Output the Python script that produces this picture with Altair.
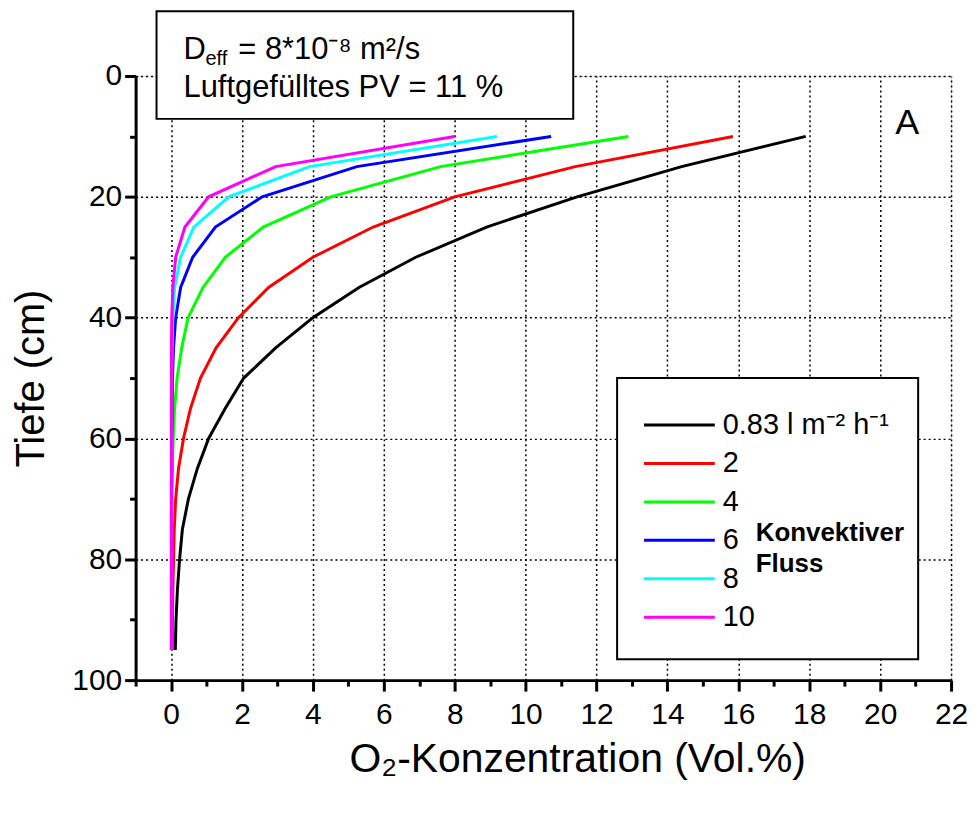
import altair as alt
import pandas as pd

# ---------------- data ----------------
depth = [10, 15, 20, 25, 30, 35, 40, 45, 50, 55, 60, 65, 70, 75, 80, 85, 90, 95]

series_names = ["0.83 l m\u207b\u00b2 h\u207b\u00b9", "2", "4", "6", "8", "10"]
series_colors = ["#000000", "#ff0000", "#00ff00", "#0000ff", "#00ffff", "#ff00ff"]

o2_083 = [17.9, 14.4, 11.45, 8.9, 6.9, 5.3, 4.0, 2.95, 2.05, 1.53, 1.06, 0.74, 0.49, 0.32, 0.24, 0.18, 0.14, 0.12]
o2_2 = [15.85, 11.4, 8.0, 5.7, 4.0, 2.75, 1.9, 1.27, 0.83, 0.55, 0.35, 0.21, 0.13, 0.09, 0.07, 0.05, 0.04, 0.04]
o2_4 = [12.9, 7.6, 4.5, 2.6, 1.53, 0.9, 0.48, 0.3, 0.17, 0.1, 0.06, 0.04, 0.03, 0.02, 0.02, 0.02, 0.02, 0.02]
o2_6 = [10.72, 5.24, 2.57, 1.25, 0.61, 0.27, 0.13, 0.07, 0.04, 0.03, 0.02, 0.02, 0.01, 0.01, 0.01, 0.01, 0.01, 0.01]
o2_8 = [9.19, 3.9, 1.63, 0.64, 0.27, 0.1, 0.05, 0.03, 0.02, 0.01, 0.01, 0.01, 0.01, 0.01, 0.01, 0.01, 0.01, 0.01]
o2_10 = [8.0, 2.95, 1.06, 0.39, 0.13, 0.05, 0.02, 0.01, 0.01, 0.01, 0.01, 0.01, 0.01, 0.01, 0.01, 0.01, 0.01, 0.01]

all_series = [o2_083, o2_2, o2_4, o2_6, o2_8, o2_10]

x_ticks = list(range(-1, 23))
y_ticks = list(range(0, 101, 10))

rows = []
for name, vals in zip(series_names, all_series):
    for d, v in zip(depth, vals):
        rows.append({"series": name, "depth": d, "o2": v})
df = pd.DataFrame(rows)

FONT = "Liberation Sans"

color_scale = alt.Scale(domain=series_names, range=series_colors)

x_axis = alt.Axis(
    values=x_ticks,
    labelExpr="datum.value >= 0 && datum.value % 2 === 0 ? datum.label : ''",
    labelOverlap=False,
    labelFlush=False,
    labelFontSize=30,
    labelPadding=9,
    labelFont=FONT,
    labelColor="black",
    tickSize={"condition": {"test": "datum.value % 2 === 0", "value": 11}, "value": 6},
    tickWidth=3,
    tickColor="black",
    domainWidth=3,
    domainColor="black",
    grid=True,
    gridColor="black",
    gridDash=[2, 3],
    gridWidth=1.5,
    gridOpacity={"condition": {"test": "datum.value % 2 === 0", "value": 1}, "value": 0},
    title="O\u2082-Konzentration (Vol.%)",
    titleFontSize=41,
    titleFont=FONT,
    titleFontWeight="normal",
    titleColor="black",
    titlePadding=10,
    titleX=443,
)

y_axis = alt.Axis(
    values=y_ticks,
    labelExpr="datum.value % 20 === 0 ? datum.label : ''",
    labelOverlap=False,
    labelFlush=False,
    labelFontSize=30,
    labelPadding=3,
    labelFont=FONT,
    labelColor="black",
    tickSize={"condition": {"test": "datum.value % 20 === 0", "value": 11}, "value": 6},
    tickWidth=3,
    tickColor="black",
    domainWidth=3,
    domainColor="black",
    grid=True,
    gridColor="black",
    gridDash=[2, 3],
    gridWidth=1.5,
    gridOpacity={"condition": {"test": "datum.value % 20 === 0", "value": 1}, "value": 0},
    title="Tiefe (cm)",
    titleFontSize=40,
    titleFont=FONT,
    titleFontWeight="normal",
    titleColor="black",
    titlePadding=20,
)

lines = alt.Chart(df).mark_line(strokeWidth=3, clip=True).encode(
    x=alt.X("o2:Q", scale=alt.Scale(domain=[-1, 22], nice=False, zero=False), axis=x_axis),
    y=alt.Y("depth:Q", scale=alt.Scale(domain=[0, 100], reverse=True, nice=False), axis=y_axis),
    color=alt.Color("series:N", scale=color_scale, legend=None),
    order=alt.Order("depth:Q"),
)

one = pd.DataFrame({"k": [0]})

# annotation box (top-left)
ann_box = alt.Chart(one).mark_rect(fill="white", stroke="black", strokeWidth=2).encode(
    x=alt.value(21), x2=alt.value(439), y=alt.value(-65), y2=alt.value(43)
)
t_D = alt.Chart(one).mark_text(text="D", fontSize=31, font=FONT, align="left", baseline="alphabetic").encode(
    x=alt.value(48), y=alt.value(-17)
)
t_eff = alt.Chart(one).mark_text(text="eff", fontSize=20, font=FONT, align="left", baseline="alphabetic").encode(
    x=alt.value(70), y=alt.value(-11)
)
t_rest = alt.Chart(one).mark_text(text="= 8*10\u207b\u2078 m\u00b2/s", fontSize=31, font=FONT, align="left", baseline="alphabetic").encode(
    x=alt.value(103), y=alt.value(-17)
)
t_line2 = alt.Chart(one).mark_text(text="Luftgef\u00fcllt es PV = 11 %".replace("t es", "tes"), fontSize=31, font=FONT, align="left", baseline="alphabetic").encode(
    x=alt.value(48), y=alt.value(21)
)

t_A = alt.Chart(one).mark_text(text="A", fontSize=36, font=FONT, align="center", baseline="middle").encode(
    x=alt.value(774), y=alt.value(47)
)

# legend
leg_df = pd.DataFrame({
    "series": series_names,
    "ly": [350 + i * 38.6 for i in range(len(series_names))],
})
leg_box = alt.Chart(one).mark_rect(fill="white", stroke="black", strokeWidth=2).encode(
    x=alt.value(483), x2=alt.value(785), y=alt.value(303), y2=alt.value(585)
)
leg_lines = alt.Chart(leg_df).mark_rule(strokeWidth=3).encode(
    x=alt.value(510), x2=alt.value(581),
    y=alt.Y("ly:Q", scale=None),
    color=alt.Color("series:N", scale=color_scale, legend=None),
)
leg_text = alt.Chart(leg_df).mark_text(fontSize=29, font=FONT, align="left", baseline="middle", color="black").encode(
    x=alt.value(589),
    y=alt.Y("ly:Q", scale=None),
    text="series:N",
)
t_konv = alt.Chart(one).mark_text(text="Konvektiver", fontSize=26, fontWeight="bold", font=FONT, align="left", baseline="middle").encode(
    x=alt.value(622), y=alt.value(458)
)
t_fluss = alt.Chart(one).mark_text(text="Fluss", fontSize=26, fontWeight="bold", font=FONT, align="left", baseline="middle").encode(
    x=alt.value(622), y=alt.value(490)
)

chart = alt.layer(
    lines, ann_box, t_D, t_eff, t_rest, t_line2, t_A,
    leg_box, leg_lines, leg_text, t_konv, t_fluss,
).properties(
    width=818,
    height=606,
    autosize=alt.AutoSizeParams(type="none"),
    padding={"left": 128, "top": 67, "right": 20, "bottom": 110},
).configure_view(
    stroke="black", strokeWidth=3
).configure(
    background="white"
)

chart.save("out.html", embed_options={"renderer": "svg", "actions": False})
